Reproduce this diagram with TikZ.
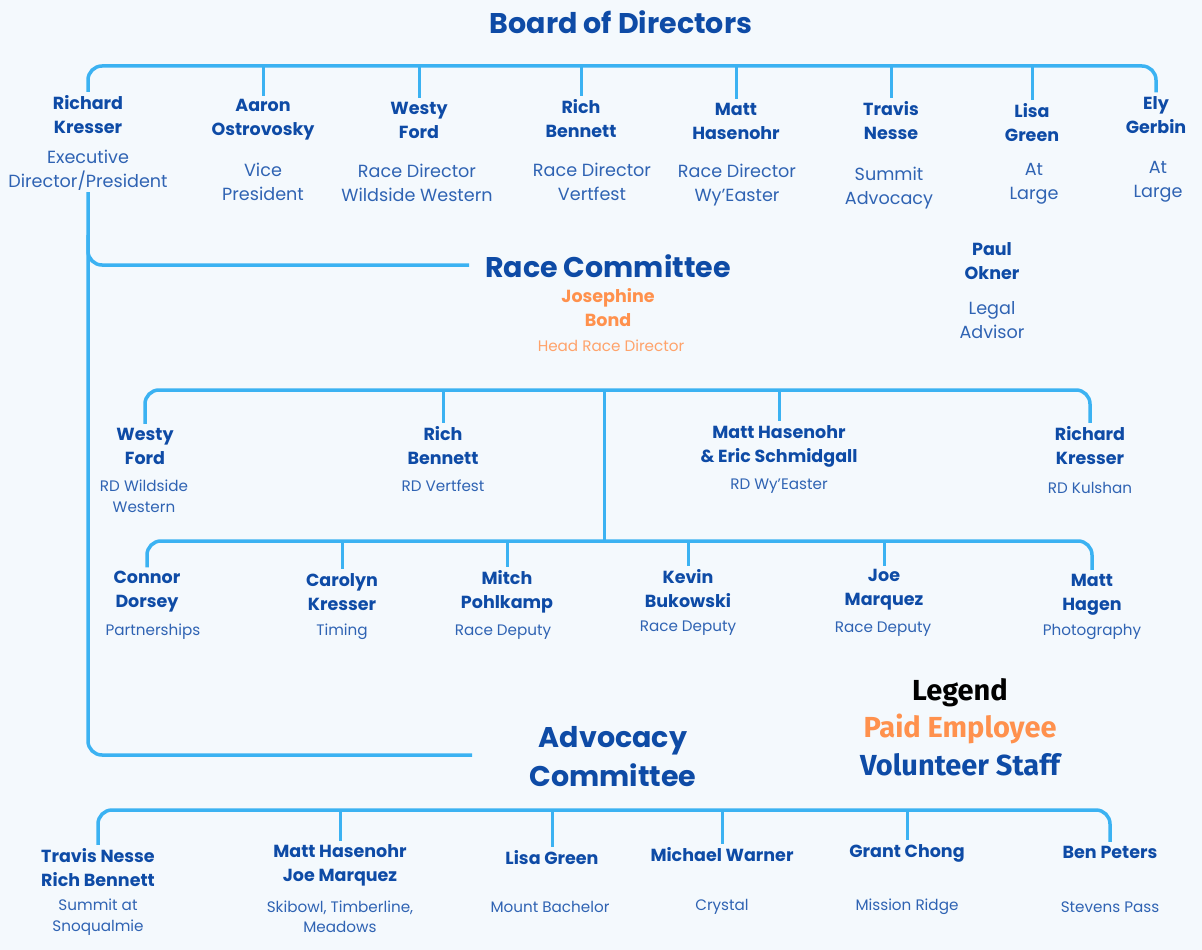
\documentclass[tikz,border=0pt]{standalone}
\usepackage{fontspec}
\setmainfont{Poppins}
\newfontfamily\legendfont{Fira Sans}
\usetikzlibrary{calc}
\definecolor{bgcol}{HTML}{F4F9FD}
\definecolor{lineblue}{HTML}{3BB2F2}
\definecolor{namecol}{HTML}{0E4BA6}
\definecolor{rolecol}{HTML}{2F63B3}
\definecolor{orangec}{HTML}{FF914D}
\definecolor{orangel}{HTML}{FFA36B}
\begin{document}
\begin{tikzpicture}[x=1pt,y=-1pt,
  bus/.style={draw=lineblue, line width=3.5pt, rounded corners=14pt},
  drop/.style={draw=lineblue, line width=3pt},
  nm/.style={font=\bfseries\fontsize{17.5}{24}\selectfont, text=namecol, align=center, inner sep=0pt, outer sep=4pt},
  rl/.style={font=\fontsize{17.6}{24}\selectfont, text=rolecol, align=center, inner sep=0pt, outer sep=2pt},
  rls/.style={font=\fontsize{15.2}{20.5}\selectfont, text=rolecol, align=center, inner sep=0pt},
  ttl/.style={font=\bfseries\fontsize{28.5}{39}\selectfont, text=namecol, align=center, inner sep=0pt},
  onm/.style={font=\bfseries\fontsize{17.5}{24}\selectfont, text=orangec, align=center, inner sep=0pt},
  orl/.style={font=\fontsize{15.2}{20}\selectfont, text=orangel, align=center, inner sep=0pt},
  leg/.style={font=\legendfont\bfseries\fontsize{29}{36}\selectfont, align=center, inner sep=0pt}
]
\fill[bgcol] (0,0) rectangle (1202,950);

% ---------------- Board of Directors ----------------
\node[ttl] (bod) at (621,22) {Board of Directors};
\node[nm] (n1) at (88,115) {Richard\\Kresser};
\node[rl] (r1) at (88,170) {Executive\\Director/President};
\node[nm] (n2) at (263,120) {Aaron\\Ostrovosky};
\node[rl] (r2) at (263,182) {Vice\\President};
\node[nm] (n3) at (419,120) {Westy\\Ford};
\node[rl] (r3) at (417,183) {Race Director\\Wildside Western};
\node[nm] (n4) at (581,119) {Rich\\Bennett};
\node[rl] (r4) at (592,182) {Race Director\\Vertfest};
\node[nm] (n5) at (736,121) {Matt\\Hasenohr};
\node[rl] (r5) at (737,185.5) {Race Director\\Wy’Easter};
\node[nm] (n6) at (891,121) {Travis\\Nesse};
\node[rl] (r6) at (889,188) {Summit\\Advocacy};
\node[nm] (n7) at (1032,123) {Lisa\\Green};
\node[rl] (r7) at (1034,184) {At\\Large};
\node[nm] (n8) at (1156,115) {Ely\\Gerbin};
\node[rl] (r8) at (1158,182) {At\\Large};

\coordinate (bbus) at (600,66);
\draw[bus] (n1.north) -- (n1.north |- bbus) -- (n8.north |- bbus) -- (n8.north);
\foreach \n in {n2,n3,n4,n5,n6,n7} \draw[drop] (\n.north |- bbus) -- (\n.north);

% ---------------- Race Committee ----------------
\node[ttl] (rc) at (608,266) {Race Committee};
\node[onm] (jb) at (608,308) {Josephine\\Bond};
\node[orl] (hrd) at (611,346) {Head Race Director};
\node[nm] (po) at (992,261) {Paul\\Okner};
\node[rl] (pol) at (992,320) {Legal\\Advisor};

\coordinate (rcend) at (469,265);
\coordinate (advend) at (472,755);
\draw[bus] (r1.south) -- (r1.south |- advend) -- (advend);
\draw[bus] ($(r1.south |- rcend)+(0,-30)$) -- (r1.south |- rcend) -- (rcend);

\node[nm] (w1) at (145,446) {Westy\\Ford};
\node[rls] (w1r) at (144,496.5) {RD Wildside\\Western};
\node[nm] (rb1) at (443,446) {Rich\\Bennett};
\node[rls] (rb1r) at (443,486) {RD Vertfest};
\node[nm] (mh1) at (779,446) {Matt Hasenohr\\\& Eric Schmidgall};
\node[rls] (mh1r) at (779,486) {RD Wy’Easter};
\node[nm] (rk1) at (1090,446) {Richard\\Kresser};
\node[rls] (rk1r) at (1090,488) {RD Kulshan};

\coordinate (rb1y) at (604,390);
\draw[bus] (w1.north) -- (w1.north |- rb1y) -- (rk1.north |- rb1y) -- (rk1.north);
\foreach \n in {rb1,mh1} \draw[drop] (\n.north |- rb1y) -- (\n.north);

\node[nm] (cd) at (147,592) {Connor\\Dorsey};
\node[rls] (cdr) at (153,632) {Partnerships};
\node[nm] (ck) at (342,592) {Carolyn\\Kresser};
\node[rls] (ckr) at (342,632) {Timing};
\node[nm] (mp) at (507,592) {Mitch\\Pohlkamp};
\node[rls] (mpr) at (503,632) {Race Deputy};
\node[nm] (kb) at (688,589) {Kevin\\Bukowski};
\node[rls] (kbr) at (688,628) {Race Deputy};
\node[nm] (jm) at (884,590) {Joe\\Marquez};
\node[rls] (jmr) at (883,629) {Race Deputy};
\node[nm] (mhg) at (1092,594.5) {Matt\\Hagen};
\node[rls] (mhgr) at (1092,632) {Photography};

\coordinate (rb2y) at (604,541);
\draw[bus] (cd.north) -- (cd.north |- rb2y) -- (mhg.north |- rb2y) -- (mhg.north);
\foreach \n in {ck,mp,kb,jm} \draw[drop] (\n.north |- rb2y) -- (\n.north);
\draw[drop] (rb1y) -- (rb2y);

% ---------------- Advocacy Committee ----------------
\node[ttl] (adv) at (613,756.5) {Advocacy\\Committee};

\node[leg, text=black] (lg) at (960,693) {Legend};
\node[leg, text=orangec] (lp) at (960,729) {Paid Employee};
\node[leg, text=namecol] (lv) at (960,765) {Volunteer Staff};

\node[nm] (tn) at (98,868) {Travis Nesse\\Rich Bennett};
\node[rls] (tnr) at (98,917) {Summit at\\Snoqualmie};
\node[nm] (mj) at (340,865.5) {Matt Hasenohr\\Joe Marquez};
\node[rls] (mjr) at (340,917) {Skibowl, Timberline,\\Meadows};
\node[nm] (lgr) at (552,858) {Lisa Green};
\node[rls] (lgrr) at (550,907) {Mount Bachelor};
\node[nm] (mw) at (722,855) {Michael Warner};
\node[rls] (mwr) at (722,907) {Crystal};
\node[nm] (gc) at (907,853) {Grant Chong};
\node[rls] (gcr) at (907,907) {Mission Ridge};
\node[nm] (bp) at (1110,852) {Ben Peters};
\node[rls] (bpr) at (1110,907) {Stevens Pass};

\coordinate (abus) at (600,810);
\draw[bus] (tn.north) -- (tn.north |- abus) -- (bp.north |- abus) -- (bp.north);
\foreach \n in {mj,lgr,mw,gc} \draw[drop] (\n.north |- abus) -- (\n.north);
\end{tikzpicture}
\end{document}
